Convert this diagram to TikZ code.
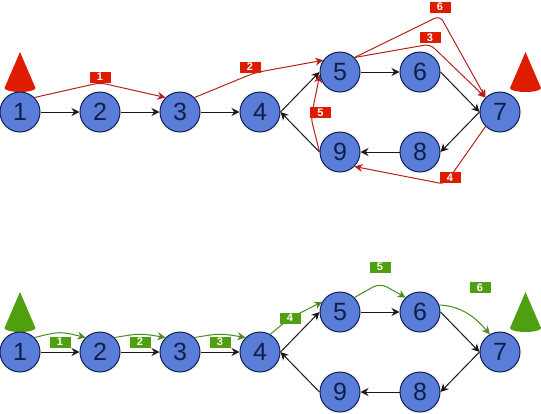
\documentclass[tikz,border=0pt]{standalone}
\usepackage{fontspec}
\setmainfont{Liberation Sans}
\usetikzlibrary{arrows.meta,backgrounds}
\definecolor{nodeblue}{HTML}{5A7DD8}
\definecolor{nodeedge}{HTML}{0F1F4F}
\definecolor{rfill}{HTML}{DD1C00}
\definecolor{rline}{HTML}{B82020}
\definecolor{gfill}{HTML}{4F9F10}
\definecolor{gline}{HTML}{4A8C20}
\tikzset{
  x=1pt,y=-1pt,
  circ/.style={circle,draw=nodeedge,line width=1pt,fill=nodeblue,minimum size=40pt,inner sep=0pt,text=nodeedge,font=\fontsize{25}{25}\selectfont},
  tag/.style={rectangle,minimum width=21pt,minimum height=11pt,inner sep=0pt,text=white,font=\bfseries\fontsize{11}{11}\selectfont},
  rtag/.style={tag,fill=rfill},
  gtag/.style={tag,fill=gfill},
  base/.style={-{Stealth[length=8pt,width=8pt]},line width=1pt,black!90},
  rlink/.style={-{Stealth[length=8pt,width=8pt]},line width=1pt,rline,rounded corners=6pt},
  glink/.style={-{Stealth[length=8pt,width=8pt]},line width=1pt,gline},
  rcone/.style={fill=rfill},
  gcone/.style={fill=gfill}
}
\newcommand{\conepic}[3]{\fill[#1] (#2,#3) -- (#2-15.5,#3+36) arc[start angle=180,end angle=360,x radius=15.5,y radius=-4] -- cycle;}
\begin{document}
\begin{tikzpicture}
\useasboundingbox (0,0) rectangle (541,413);
% cones
\conepic{rcone}{20}{52}
\conepic{rcone}{525.5}{52}
\conepic{gcone}{20}{292}
\conepic{gcone}{525.5}{292}
% top graph
\node[circ] (a1) at (20,112) {1};
\node[circ] (a2) at (100,112) {2};
\node[circ] (a3) at (180,112) {3};
\node[circ] (a4) at (260,112) {4};
\node[circ] (a5) at (340,72) {5};
\node[circ] (a6) at (420,72) {6};
\node[circ] (a7) at (500,112) {7};
\node[circ] (a8) at (420,152) {8};
\node[circ] (a9) at (340,152) {9};
\node[rtag] (r1) at (100,77) {1};
\node[rtag] (r2) at (250,67) {2};
\node[rtag] (r3) at (430,37.5) {3};
\node[rtag] (r4) at (450,177.5) {4};
\node[rtag] (r5) at (320.5,112.5) {5};
\node[rtag] (r6) at (440,7) {6};
\coordinate (rc5) at (311,118);
% bottom graph
\node[circ] (b1) at (20,352) {1};
\node[circ] (b2) at (100,352) {2};
\node[circ] (b3) at (180,352) {3};
\node[circ] (b4) at (260,352) {4};
\node[circ] (b5) at (340,312) {5};
\node[circ] (b6) at (420,312) {6};
\node[circ] (b7) at (500,352) {7};
\node[circ] (b8) at (420,392) {8};
\node[circ] (b9) at (340,392) {9};
\node[gtag] (g1) at (60,342) {1};
\node[gtag] (g2) at (140,342) {2};
\node[gtag] (g3) at (220,342) {3};
\node[gtag] (g4) at (290,318) {4};
\node[gtag] (g5) at (380,267) {5};
\node[gtag] (g6) at (480,287.5) {6};
\begin{pgfonlayer}{background}
\foreach \p in {a,b}{
  \draw[base] (\p1) -- (\p2);
  \draw[base] (\p2) -- (\p3);
  \draw[base] (\p3) -- (\p4);
  \draw[base] (\p4.east) -- (\p5.west);
  \draw[base] (\p5) -- (\p6);
  \draw[base] (\p6.east) -- (\p7.west);
  \draw[base] (\p7.west) -- (\p8.east);
  \draw[base] (\p8) -- (\p9);
  \draw[base] (\p9.west) -- (\p4.east);
}
% red routes
\draw[rlink] (a1.45) -- (r1.south) -- (a3.135);
\draw[rlink] (a3.45) -- ([xshift=5pt]r2.south) -- (a5.145);
\draw[rlink] (a5.45) -- ([yshift=-1pt]r3.south) -- (a7.135);
\draw[rlink] (a5.45) -- ([yshift=-3pt]r6.south) -- (a7.135);
\draw[rlink] (a7.225) -- ([xshift=-5pt,yshift=-1pt]r4.south) -- (a9.-45);
\draw[rlink] (a9.west) -- (rc5) -- (a5.188);
% green routes
\draw[glink] (b1.45) .. controls ([yshift=5pt]g1.north) and ([yshift=5pt]g1.north) .. (b2.135);
\draw[glink] (b2.45) .. controls ([yshift=3pt]g2.north) and ([yshift=3pt]g2.north) .. (b3.135);
\draw[glink] (b3.45) .. controls ([yshift=3pt]g3.north) and ([yshift=3pt]g3.north) .. (b4.135);
\draw[glink,rounded corners=5pt] (b4.60) -- (g4.center) -- (b5.150);
\draw[glink,rounded corners=8pt] (b5.45) -- ([yshift=-16pt]g5.center) -- (b6.135);
\draw[glink] (b6.20) .. controls (462,306) and (476,318) .. (b7.120);
\end{pgfonlayer}
\end{tikzpicture}
\end{document}
